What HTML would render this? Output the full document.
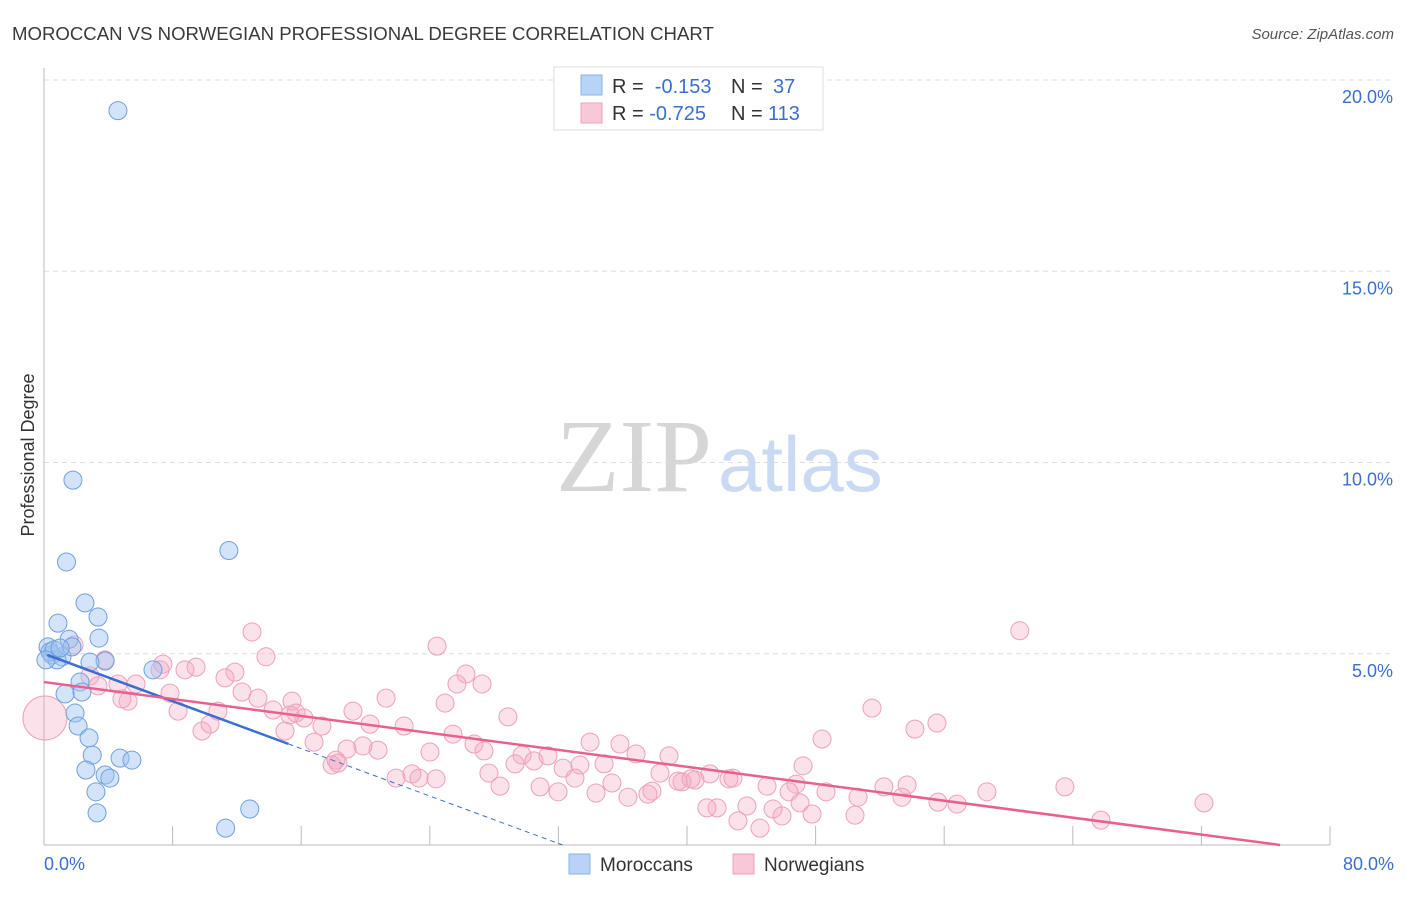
<!DOCTYPE html>
<html><head><meta charset="utf-8"><style>
body{margin:0;background:#fff;font-family:"Liberation Sans",sans-serif;}
</style></head><body>
<svg id="chart" width="1406" height="892" style="font-family:'Liberation Sans',sans-serif">
<text x="12" y="40" font-size="18.6" fill="#3a3a3a">MOROCCAN VS NORWEGIAN PROFESSIONAL DEGREE CORRELATION CHART</text>
<text x="1394" y="39" font-size="15" fill="#555" text-anchor="end" font-style="italic">Source: ZipAtlas.com</text>
<text x="712" y="491" font-size="104" fill="#d6d6d6" text-anchor="end" style="font-family:'Liberation Serif',serif">ZIP</text>
<text x="718" y="491" font-size="78" fill="#c9daf2">atlas</text>
<text transform="translate(34,455) rotate(-90)" font-size="18" fill="#333" text-anchor="middle">Professional Degree</text>
<g id="grid"></g><g id="axes"></g><g id="pts"></g><g id="lines"></g>
<g>
<rect x="554" y="67" width="269" height="63" fill="#fff" stroke="#ddd"/>
<rect x="581" y="75" width="21" height="20" fill="#b8d3f5" stroke="#8ab2e8"/>
<rect x="581" y="103" width="21" height="20" fill="#f9c8d8" stroke="#eea3bb"/>
<text x="612" y="93" font-size="20" fill="#333">R = <tspan fill="#3a6fd0">&#160;-0.153</tspan><tspan x="731">N = </tspan><tspan fill="#3a6fd0" x="773">37</tspan></text>
<text x="612" y="120" font-size="20" fill="#333">R = <tspan fill="#3a6fd0">-0.725</tspan><tspan x="731">N = </tspan><tspan fill="#3a6fd0" x="768">113</tspan></text>
</g>
<g>
<rect x="569" y="854" width="21" height="20" fill="#b8d3f5" stroke="#8ab2e8"/>
<text x="600" y="871" font-size="19" fill="#333">Moroccans</text>
<rect x="733" y="854" width="21" height="20" fill="#f9c8d8" stroke="#eea3bb"/>
<text x="764" y="871" font-size="19" fill="#333">Norwegians</text>
</g>
</svg>
<script>
const blueX=[4.6,1.8,1.4,11.5,2.55,3.36,0.87,3.42,1.56,0.25,0.5,1.12,0.81,1.74,3.8,6.78,2.86,2.24,2.36,1.31,1.93,2.12,2.8,3.0,4.73,5.47,2.61,3.8,4.1,3.23,12.8,3.3,11.3,0.37,0.62,1.0,0.12];
const blueY=[19.2,9.54,7.4,7.7,6.33,5.96,5.8,5.41,5.38,5.18,4.97,4.92,4.84,5.18,4.81,4.58,4.78,4.26,4.0,3.95,3.45,3.11,2.8,2.35,2.27,2.22,1.96,1.83,1.75,1.39,0.94,0.84,0.44,5.05,5.1,5.15,4.84];
const pinkX=[0.06,12.94,60.7,13.81,1.87,3.79,7.22,8.77,9.46,11.88,7.4,24.45,26.25,27.25,25.69,21.28,24.95,12.32,13.31,15.43,11.26,7.84,5.23,4.85,2.86,4.6,5.72,3.36,8.34,10.82,14.25,15.68,16.17,17.29,19.22,20.28,22.4,28.86,51.51,55.55,54.18,9.83,10.33,14.99,16.8,18.85,20.78,19.84,18.16,17.92,18.29,24.01,25.44,26.75,29.74,30.48,31.35,33.97,35.83,36.83,38.88,48.4,47.22,41.43,40.5,39.69,38.32,34.84,33.34,32.29,29.3,27.68,21.9,22.89,23.33,24.39,28.37,30.86,31.98,33.03,34.34,35.33,36.33,37.57,37.82,39.44,40.25,42.61,42.86,44.98,46.78,46.35,48.65,50.64,52.25,53.69,53.37,55.61,56.8,58.66,63.51,72.16,41.87,41.24,43.73,45.35,47.03,43.17,44.54,45.91,47.78,50.45,65.75,27.37,15.3];
const pinkY=[3.32,5.57,5.6,4.92,5.23,4.84,4.58,4.58,4.65,4.52,4.73,5.2,4.47,4.21,4.21,3.84,3.71,4.0,3.84,3.76,4.37,3.97,3.76,3.82,4.42,4.21,4.21,4.16,3.5,3.5,3.53,3.45,3.32,3.11,3.5,3.16,3.11,3.35,3.58,3.19,3.03,2.98,3.16,2.98,2.69,2.51,2.48,2.59,2.22,2.09,2.14,2.43,2.9,2.64,2.35,2.2,2.33,2.69,2.64,2.38,2.33,2.77,2.07,1.86,1.7,1.65,1.88,2.12,2.09,2.01,2.12,1.88,1.75,1.86,1.75,1.73,1.54,1.52,1.39,1.75,1.36,1.62,1.25,1.33,1.41,1.67,1.73,1.73,1.75,1.54,1.59,1.39,1.39,1.25,1.52,1.57,1.25,1.12,1.07,1.39,1.52,1.1,0.97,0.97,1.02,0.94,1.1,0.63,0.44,0.76,0.81,0.78,0.65,2.46,3.4];
const xTicks=[0,8,16,24,32,40,48,56,64,72,80];
const yTicks=[5,10,15,20];
const blueTrend=[5.0,-0.155];
const pinkTrend=[4.26,-0.0554];
const X=v=>44+v*16.075, Y=v=>845-v*38.25;
const NS="http://www.w3.org/2000/svg";
function mk(p,t,a){const e=document.createElementNS(NS,t);for(const k in a)e.setAttribute(k,a[k]);p.appendChild(e);return e;}
const grid=document.getElementById('grid'),axes=document.getElementById('axes'),pts=document.getElementById('pts'),lines=document.getElementById('lines');
yTicks.forEach(v=>{const l=mk(grid,'line',{x1:44,x2:1394,y1:Y(v),y2:Y(v),stroke:'#ddd','stroke-dasharray':'5,4'});


const t=mk(grid,'text',{x:1393,y:Y(v)+23,'font-size':18,fill:'#3a6fd0','text-anchor':'end'});t.textContent=v.toFixed(1)+'%';

});
mk(axes,'line',{x1:44,x2:44,y1:68,y2:845,stroke:'#bbb'});
mk(axes,'line',{x1:44,x2:1330,y1:845,y2:845,stroke:'#bbb'});
xTicks.forEach((v,i)=>{if(i>0){const l=mk(axes,'line',{x1:X(v),x2:X(v),y1:826,y2:845,stroke:'#bbb'});

}});
[[0,'0.0%','start',44],[80,'80.0%','end',1394]].forEach(a=>{const t=mk(axes,'text',{x:a[3],y:870,'font-size':18,fill:'#3a6fd0','text-anchor':a[2]});t.textContent=a[1];

});
pinkX.forEach((x,i)=>{const c=mk(pts,'circle',{cx:X(x),cy:Y(pinkY[i]),r:i==0?22:9,fill:'rgba(244,168,196,0.35)',stroke:'#eea0ba','stroke-width':1});

});
blueX.forEach((x,i)=>{const c=mk(pts,'circle',{cx:X(x),cy:Y(blueY[i]),r:9,fill:'rgba(160,196,240,0.45)',stroke:'#6f9fe0','stroke-width':1});

});
const bEnd=-blueTrend[0]/blueTrend[1];
let l=mk(lines,'line',{x1:X(15.2),y1:Y(blueTrend[0]+blueTrend[1]*15.2),x2:X(bEnd),y2:Y(0),stroke:'#3a6fd0','stroke-width':1,'stroke-dasharray':'5,4'});


l=mk(lines,'line',{x1:X(0.2),y1:Y(blueTrend[0]+blueTrend[1]*0.2),x2:X(15.2),y2:Y(blueTrend[0]+blueTrend[1]*15.2),stroke:'#3a6fd0','stroke-width':2.5});


const pEnd=-pinkTrend[0]/pinkTrend[1];
l=mk(lines,'line',{x1:X(0),y1:Y(pinkTrend[0]),x2:X(pEnd),y2:Y(0),stroke:'#e8608e','stroke-width':2.5});


</script>
</body></html>
